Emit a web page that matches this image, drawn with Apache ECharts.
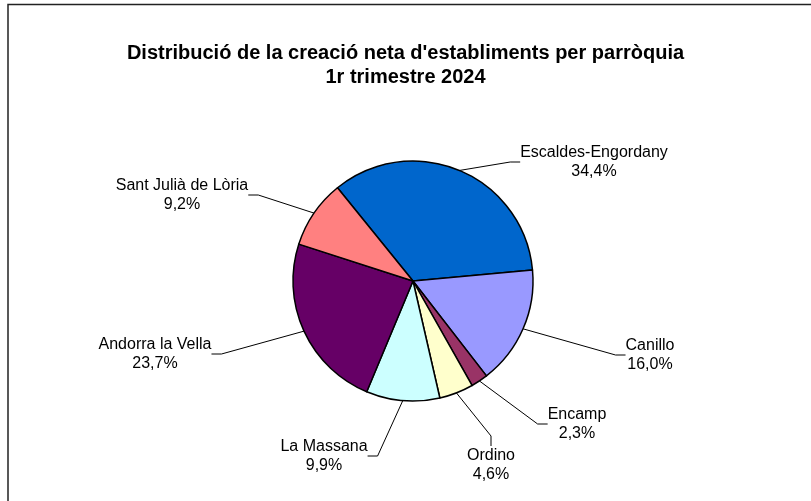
<!DOCTYPE html>
<html>
<head>
<meta charset="utf-8">
<script src="https://cdn.jsdelivr.net/npm/echarts@6/dist/echarts.min.js"></script>
<style>
html,body{margin:0;padding:0;background:#fff;}
#chart{width:811px;height:501px;}
</style>
</head>
<body>
<div id="chart"></div>
<script>
const categories = ['Escaldes-Engordany','Canillo','Encamp','Ordino','La Massana','Andorra la Vella','Sant Julià de Lòria'];
const values = [34.4, 16.0, 2.3, 4.6, 9.9, 23.7, 9.2];
const colors = ['#0066CC','#9999FF','#993366','#FFFFCC','#CCFFFF','#660066','#FF8080'];
const titleLines = ["Distribució de la creació neta d'establiments per parròquia", '1r trimestre 2024'];
// label centres (layout only)
const labelPos = [[594,162],[650,355],[577,424],[491,465],[324,456],[155,354],[182,195]];

const chart = echarts.init(document.getElementById('chart'), null, {renderer:'canvas'});
chart.setOption({
  backgroundColor:'#fff',
  animation:false,
  graphic:[{
    type:'rect', shape:{x:8,y:4.5,width:900,height:600},
    style:{fill:'none',stroke:'#222',lineWidth:1.5}, z:-1
  }],
  title:{
    text: titleLines.join('\n'),
    left:'center', top:36,
    textStyle:{fontFamily:'Liberation Sans, Arial, sans-serif',fontSize:20,fontWeight:'bold',color:'#000',lineHeight:24}
  },
  series:[{
    type:'pie',
    center:[413,281],
    radius:120,
    startAngle:129,
    clockwise:true,
    avoidLabelOverlap:false,
    itemStyle:{borderColor:'#000',borderWidth:1.5},
    label:{
      show:true,
      fontFamily:'Liberation Sans, Arial, sans-serif',
      fontSize:16,
      lineHeight:19,
      color:'#000',
      align:'center',
      formatter:p=>p.name+'\n'+p.value.toFixed(1).replace('.',',')+'%'
    },
    labelLine:{show:true,length:20,length2:10,lineStyle:{color:'#000',width:1}},
    labelLayout:function(p){
      const pos = labelPos[p.dataIndex];
      return {x:pos[0], y:pos[1], align:'center', verticalAlign:'middle'};
    },
    data: categories.map((c,i)=>({name:c,value:values[i],itemStyle:{color:colors[i]}}))
  }]
});
</script>
</body>
</html>
